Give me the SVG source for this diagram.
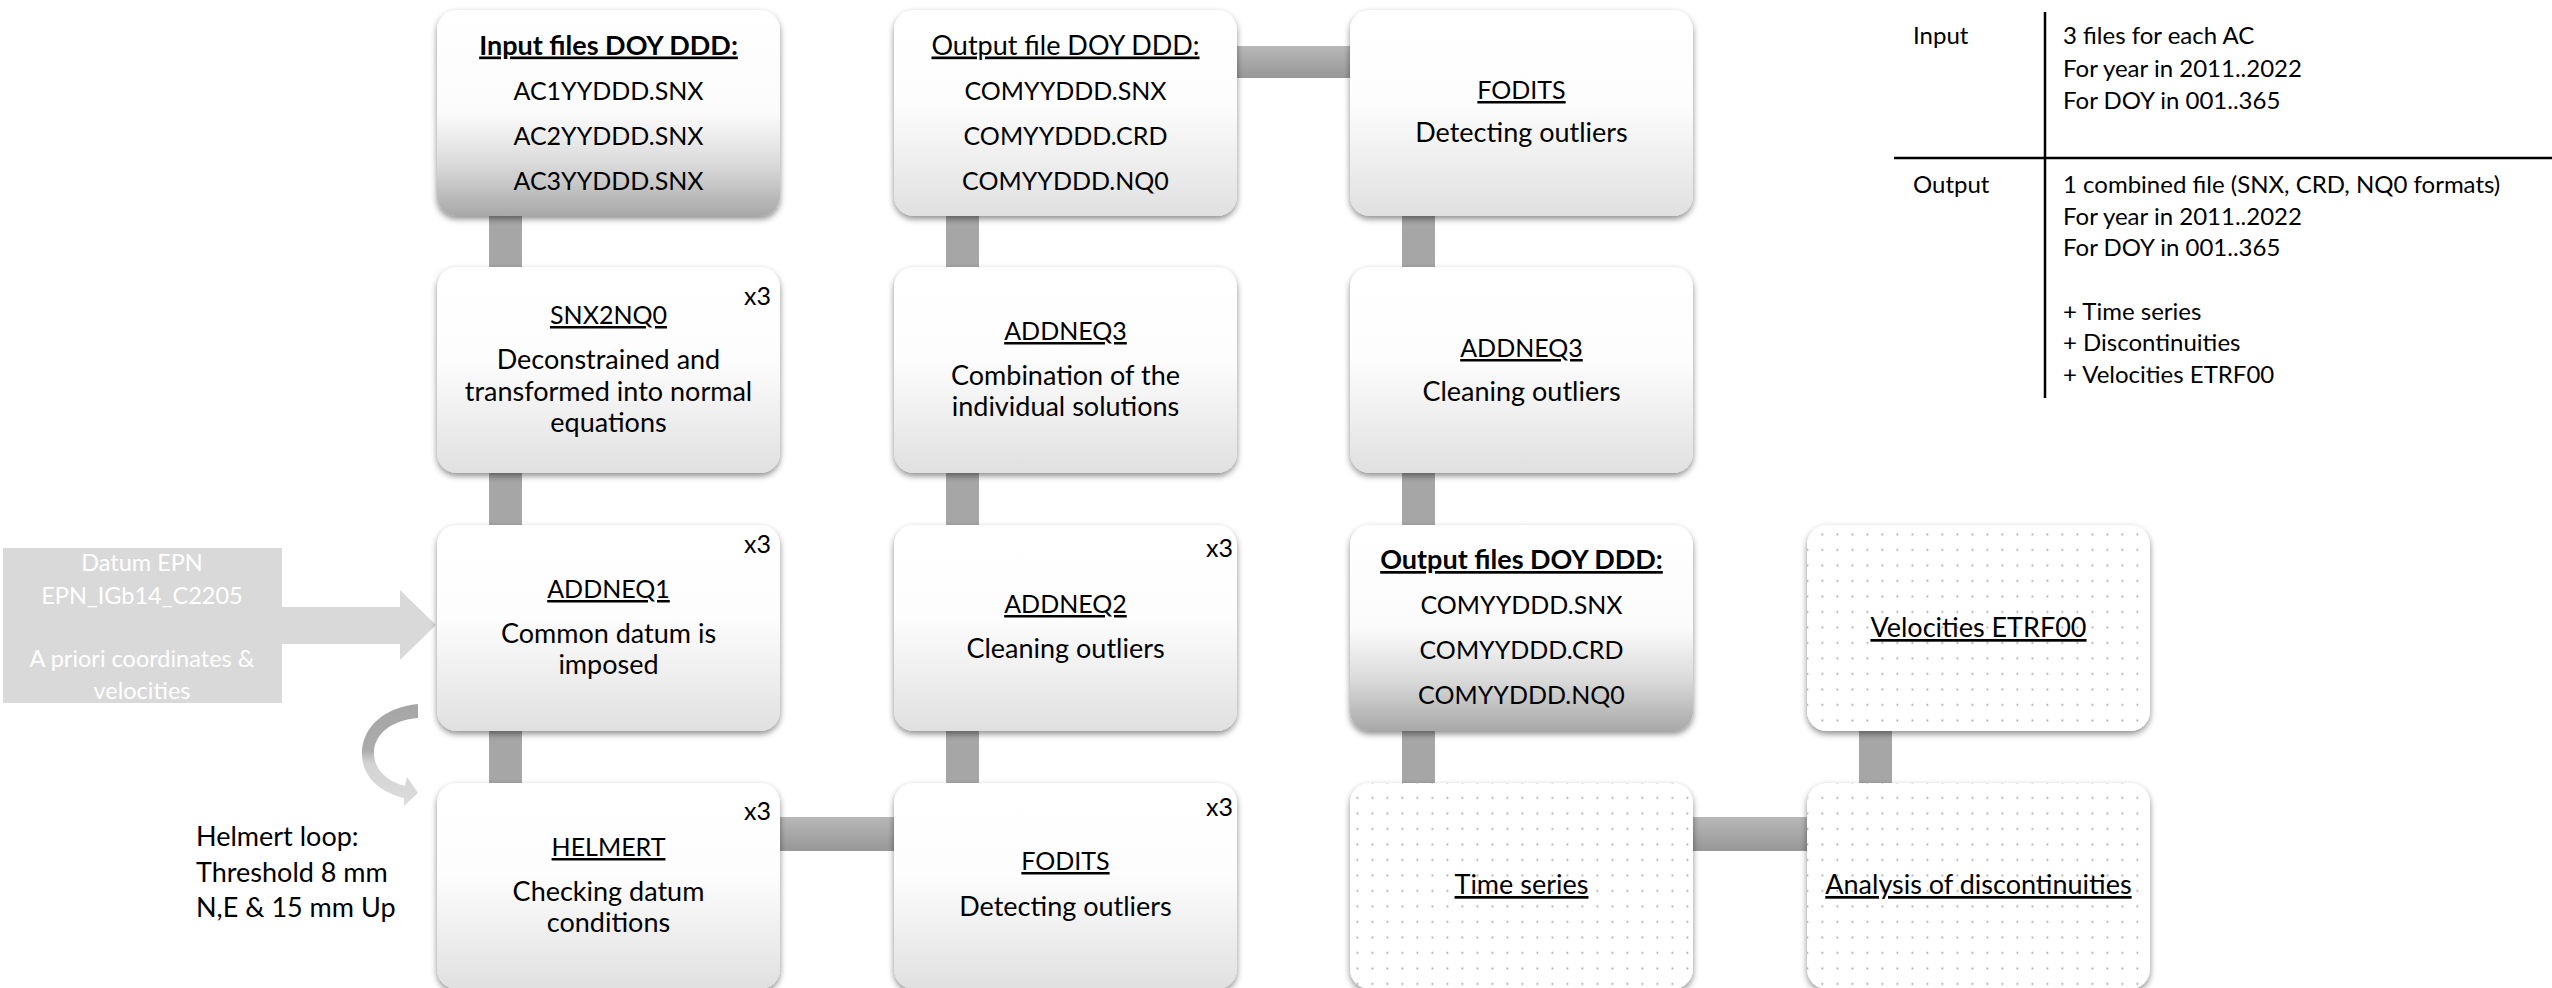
<svg xmlns="http://www.w3.org/2000/svg" width="2552" height="988" viewBox="0 0 2552 988">
<style>
.t{font-family:Lato,"Liberation Sans",sans-serif;font-size:25px;fill:#000;text-anchor:middle}
.m{font-size:27px}
.u{text-decoration:underline}
.b{font-weight:bold}
.x3{text-anchor:end}
.l{text-anchor:start}
.w{fill:#fff;font-size:23.5px}
.tb{font-family:Lato,"Liberation Sans",sans-serif;font-size:24px;fill:#000;text-anchor:start}
.vb{fill:#a6a6a6}
.hb{fill:url(#gH)}
.box{filter:url(#sh)}
</style>
<defs>
<linearGradient id="gStd" x1="0" y1="0" x2="0" y2="1">
<stop offset="0" stop-color="#ffffff"/><stop offset="0.45" stop-color="#fdfdfd"/><stop offset="1" stop-color="#e0e0e0"/>
</linearGradient>
<linearGradient id="gDark" x1="0" y1="0" x2="0" y2="1">
<stop offset="0" stop-color="#ffffff"/><stop offset="0.5" stop-color="#fbfbfb"/><stop offset="0.75" stop-color="#dadada"/><stop offset="1" stop-color="#a8a8a8"/>
</linearGradient>
<linearGradient id="gH" x1="0" y1="0" x2="0" y2="1">
<stop offset="0" stop-color="#b8b8b8"/><stop offset="1" stop-color="#979797"/>
</linearGradient>
<linearGradient id="gCurve" gradientUnits="userSpaceOnUse" x1="0" y1="704" x2="0" y2="806">
<stop offset="0" stop-color="#a6a6a6"/><stop offset="0.45" stop-color="#ababab"/><stop offset="0.58" stop-color="#d3d3d3"/><stop offset="1" stop-color="#dcdcdc"/>
</linearGradient>
<pattern id="dots" width="15" height="15.5" patternUnits="userSpaceOnUse">
<rect width="15" height="15.5" fill="#fff"/><rect x="6.5" y="6.5" width="1.8" height="1.8" fill="#a8a8a8"/>
</pattern>
<filter id="sh" x="-5%" y="-5%" width="110%" height="115%">
<feDropShadow dx="0" dy="3" stdDeviation="3" flood-color="#000" flood-opacity="0.45"/>
</filter>
</defs>

<g id="connectors">
<rect class="vb" x="489" y="205" width="33" height="70"/>
<rect class="vb" x="489" y="465" width="33" height="70"/>
<rect class="vb" x="489" y="720" width="33" height="70"/>
<rect class="vb" x="946" y="205" width="33" height="70"/>
<rect class="vb" x="946" y="465" width="33" height="70"/>
<rect class="vb" x="946" y="720" width="33" height="70"/>
<rect class="vb" x="1402" y="205" width="33" height="70"/>
<rect class="vb" x="1402" y="465" width="33" height="70"/>
<rect class="vb" x="1402" y="720" width="33" height="70"/>
<rect class="vb" x="1859" y="720" width="33" height="70"/>
<rect class="hb" x="1230" y="46" width="126" height="32"/>
<rect class="hb" x="775" y="817" width="125" height="34"/>
<rect class="hb" x="1688" y="817" width="125" height="34"/>
</g>

<g id="datum">
<rect x="3" y="548" width="279" height="155" fill="#d9d9d9"/>
<polygon points="280,607 400,607 400,590 436,625 400,660 400,644 280,644" fill="#d9d9d9"/>
<text class="t w" x="142" y="571">Datum EPN</text>
<text class="t w" x="142" y="604">EPN_IGb14_C2205</text>
<text class="t w" x="142" y="667">A priori coordinates &amp;</text>
<text class="t w" x="142" y="699">velocities</text>
</g>

<g id="helmert-loop">
<path d="M418 704 C384 707 361 728 362 755 C363 778 380 792 404 798 L404 806 L418 793 L407 777 L405 786 C388 782 374 770 374 753 C374 733 393 720 418 718 Z" fill="url(#gCurve)"/>
<text class="t m l" x="196" y="846">Helmert loop:</text>
<text class="t m l" x="196" y="882">Threshold 8 mm</text>
<text class="t m l" x="196" y="917">N,E &amp; 15 mm Up</text>
</g>

<g id="input-files">
<rect class="box" x="437" y="10" width="343" height="206" rx="20" fill="url(#gDark)"/>
<text class="t m u b" x="608.5" y="54.5">Input files DOY DDD:</text>
<text class="t" x="608.5" y="99.5">AC1YYDDD.SNX</text>
<text class="t" x="608.5" y="144.5">AC2YYDDD.SNX</text>
<text class="t" x="608.5" y="189.5">AC3YYDDD.SNX</text>
</g>

<g id="output-file">
<rect class="box" x="894" y="10" width="343" height="206" rx="20" fill="url(#gStd)"/>
<text class="t m u" x="1065.5" y="54.5">Output file DOY DDD:</text>
<text class="t" x="1065.5" y="99.5">COMYYDDD.SNX</text>
<text class="t" x="1065.5" y="144.5">COMYYDDD.CRD</text>
<text class="t" x="1065.5" y="189.5">COMYYDDD.NQ0</text>
</g>

<g id="fodits-2">
<rect class="box" x="1350" y="10" width="343" height="206" rx="20" fill="url(#gStd)"/>
<text class="t u" x="1521.5" y="99">FODITS</text>
<text class="t m" x="1521.5" y="142">Detecting outliers</text>
</g>

<g id="snx2nq0">
<rect class="box" x="437" y="267" width="343" height="206" rx="20" fill="url(#gStd)"/>
<text class="t x3" x="771" y="305">x3</text>
<text class="t u" x="608.5" y="324">SNX2NQ0</text>
<text class="t m" x="608.5" y="369">Deconstrained and</text>
<text class="t m" x="608.5" y="401">transformed into normal</text>
<text class="t m" x="608.5" y="432">equations</text>
</g>

<g id="addneq3-comb">
<rect class="box" x="894" y="267" width="343" height="206" rx="20" fill="url(#gStd)"/>
<text class="t u" x="1065.5" y="340">ADDNEQ3</text>
<text class="t m" x="1065.5" y="385">Combination of the</text>
<text class="t m" x="1065.5" y="416">individual solutions</text>
</g>

<g id="addneq3-clean">
<rect class="box" x="1350" y="267" width="343" height="206" rx="20" fill="url(#gStd)"/>
<text class="t u" x="1521.5" y="357">ADDNEQ3</text>
<text class="t m" x="1521.5" y="401">Cleaning outliers</text>
</g>

<g id="addneq1">
<rect class="box" x="437" y="525" width="343" height="206" rx="20" fill="url(#gStd)"/>
<text class="t x3" x="771" y="553">x3</text>
<text class="t u" x="608.5" y="598">ADDNEQ1</text>
<text class="t m" x="608.5" y="643">Common datum is</text>
<text class="t m" x="608.5" y="674">imposed</text>
</g>

<g id="addneq2">
<rect class="box" x="894" y="525" width="343" height="206" rx="20" fill="url(#gStd)"/>
<text class="t x3" x="1233" y="557">x3</text>
<text class="t u" x="1065.5" y="613">ADDNEQ2</text>
<text class="t m" x="1065.5" y="658">Cleaning outliers</text>
</g>

<g id="output-files">
<rect class="box" x="1350" y="525" width="343" height="206" rx="20" fill="url(#gDark)"/>
<text class="t m u b" x="1521.5" y="569">Output files DOY DDD:</text>
<text class="t" x="1521.5" y="614">COMYYDDD.SNX</text>
<text class="t" x="1521.5" y="659">COMYYDDD.CRD</text>
<text class="t" x="1521.5" y="704">COMYYDDD.NQ0</text>
</g>

<g id="velocities">
<rect class="box" x="1807" y="525" width="343" height="206" rx="20" fill="url(#dots)"/>
<text class="t m u" x="1978.5" y="637">Velocities ETRF00</text>
</g>

<g id="helmert">
<rect class="box" x="437" y="783" width="343" height="206" rx="20" fill="url(#gStd)"/>
<text class="t x3" x="771" y="820">x3</text>
<text class="t u" x="608.5" y="856">HELMERT</text>
<text class="t m" x="608.5" y="901">Checking datum</text>
<text class="t m" x="608.5" y="932">conditions</text>
</g>

<g id="fodits-1">
<rect class="box" x="894" y="783" width="343" height="206" rx="20" fill="url(#gStd)"/>
<text class="t x3" x="1233" y="816">x3</text>
<text class="t u" x="1065.5" y="870">FODITS</text>
<text class="t m" x="1065.5" y="916">Detecting outliers</text>
</g>

<g id="time-series">
<rect class="box" x="1350" y="783" width="343" height="206" rx="20" fill="url(#dots)"/>
<text class="t m u" x="1521.5" y="894">Time series</text>
</g>

<g id="discontinuities">
<rect class="box" x="1807" y="783" width="343" height="206" rx="20" fill="url(#dots)"/>
<text class="t m u" x="1978.5" y="894">Analysis of discontinuities</text>
</g>

<g id="summary-table">
<line x1="2045" y1="12" x2="2045" y2="398" stroke="#000" stroke-width="2.5"/>
<line x1="1894" y1="158" x2="2552" y2="158" stroke="#000" stroke-width="2.5"/>
<text class="tb" x="1913" y="44">Input</text>
<text class="tb" x="2063" y="44">3 files for each AC</text>
<text class="tb" x="2063" y="77">For year in 2011..2022</text>
<text class="tb" x="2063" y="109">For DOY in 001..365</text>
<text class="tb" x="1913" y="193">Output</text>
<text class="tb" x="2063" y="193">1 combined file (SNX, CRD, NQ0 formats)</text>
<text class="tb" x="2063" y="225">For year in 2011..2022</text>
<text class="tb" x="2063" y="256">For DOY in 001..365</text>
<text class="tb" x="2063" y="320">+ Time series</text>
<text class="tb" x="2063" y="351">+ Discontinuities</text>
<text class="tb" x="2063" y="383">+ Velocities ETRF00</text>
</g>
</svg>
